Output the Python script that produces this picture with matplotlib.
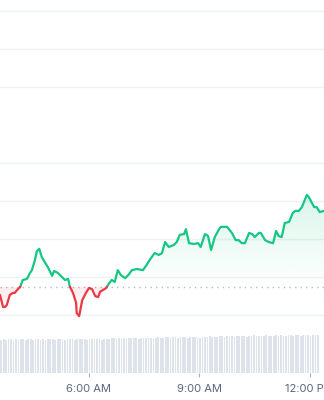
import numpy as np
import matplotlib
matplotlib.use("Agg")
import matplotlib.pyplot as plt
from matplotlib.colors import to_rgb

# ---- data (minutes since midnight, price) ----
times = [215, 220, 223, 226, 231, 236, 239, 243, 248, 252, 259, 264, 267, 272, 275, 279,
         283, 288, 293, 300, 303, 309, 316, 321, 326, 329, 334, 339, 340, 344, 349, 355,
         360, 365, 370, 375, 378, 383, 388, 393, 397, 402, 407, 412, 419, 424, 430, 438,
         448, 454, 459, 467, 474, 479, 484, 490, 498, 503, 508, 515, 518, 523, 531, 538,
         542, 549, 554, 559, 565, 572, 575, 585, 593, 599, 604, 609, 614, 621, 626, 630,
         637, 640, 647, 653, 660, 665, 669, 674, 679, 686, 692, 696, 702, 707, 715, 718,
         727, 731, 736, 743]
prices = [25.53, 25.21, 25.21, 25.26, 25.53, 25.58, 25.58, 25.66, 25.74, 25.92, 25.95, 26.11,
          26.18, 26.45, 26.68, 26.74, 26.53, 26.39, 26.26, 26.03, 26.16, 26.11, 26.00, 25.92,
          25.95, 25.74, 25.58, 25.32, 25.05, 24.97, 25.39, 25.58, 25.71, 25.68, 25.50, 25.47,
          25.61, 25.66, 25.71, 25.84, 25.92, 25.87, 26.18, 26.05, 25.97, 26.05, 26.18, 26.21,
          26.18, 26.32, 26.45, 26.63, 26.58, 26.63, 26.92, 26.79, 26.84, 26.92, 27.11, 27.13,
          27.26, 26.89, 26.87, 26.89, 26.79, 27.13, 27.08, 26.71, 27.05, 27.26, 27.32, 27.32,
          27.16, 26.97, 26.97, 26.89, 26.89, 27.16, 27.13, 27.05, 27.16, 27.16, 26.97, 26.92,
          26.89, 27.21, 27.08, 27.05, 27.42, 27.45, 27.68, 27.74, 27.74, 27.84, 28.16, 28.11,
          27.84, 27.84, 27.71, 27.74]
prev_close = 25.74
grid_levels = [25, 26, 27, 28, 29, 31, 32, 33]
tick_times = [360, 540, 720]
tick_labels = ["6:00 AM", "9:00 AM", "12:00 PM"]
vol_start = 217
vol_step = 4
volumes = [33, 34, 33, 34, 34, 33, 34, 33, 34, 34, 33, 34, 34, 33, 34, 34, 33, 34, 33, 34, 34, 34,
           33, 34, 34, 34, 33, 34, 34, 34, 33, 34, 34, 34, 34, 33, 34, 34, 34, 34, 34, 33, 34, 34,
           34, 35, 35, 34, 35, 35, 35, 34, 35, 35, 35, 35, 34, 35, 35, 35, 36, 35, 35, 35, 36, 35,
           35, 36, 36, 35, 36, 36, 35, 36, 36, 36, 35, 36, 36, 36, 36, 35, 36, 36, 36, 37, 36, 36,
           36, 37, 37, 36, 37, 37, 37, 36, 37, 37, 37, 37, 36, 37, 37, 38, 37, 37, 37, 37, 38, 37,
           37, 37, 38, 37, 38, 37, 37, 38, 38, 37, 38, 38, 37, 38, 38, 38, 37, 38, 38, 38]

GREEN = "#16c784"
RED = "#ea3943"
XMIN, XMAX = 215, 743

fig = plt.figure(figsize=(3.24, 4.0), dpi=100)
fig.patch.set_facecolor("white")

# ---- price axes ----
ax = fig.add_axes([0, 70 / 400, 1, 330 / 400])
ax.set_xlim(XMIN, XMAX)
ax.set_ylim(24.605, 33.29)
ax.axis("off")
for g in grid_levels:
    ax.axhline(g, color="#eff1f4", lw=1.0, zorder=0)
ax.axhline(prev_close, color="#b5bdcc", lw=1.0, ls=(0, (1, 3)), zorder=1)

t = np.array(times, float)
p = np.array(prices, float)
tt, pp = [t[0]], [p[0]]
for i in range(1, len(t)):
    d0, d1 = p[i - 1] - prev_close, p[i] - prev_close
    if d0 * d1 < 0:
        f = d0 / (d0 - d1)
        tt.append(t[i - 1] + f * (t[i] - t[i - 1]))
        pp.append(prev_close)
    tt.append(t[i])
    pp.append(p[i])
tt = np.array(tt)
pp = np.array(pp)


def gradient_fill(where, color, y0, y1, a_top, a_bot):
    poly = ax.fill_between(tt, pp, prev_close, where=where, interpolate=True,
                           facecolor="none", edgecolor="none")
    rgb = to_rgb(color)
    n = 100
    img = np.zeros((n, 1, 4))
    img[:, 0, :3] = rgb
    img[:, 0, 3] = np.linspace(a_top, a_bot, n)
    for path in poly.get_paths():
        im = ax.imshow(img, extent=(XMIN, XMAX, y0, y1), aspect="auto",
                       origin="upper", zorder=2, interpolation="bilinear")
        im.set_clip_path(path, transform=ax.transData)
    ax.set_xlim(XMIN, XMAX)
    ax.set_ylim(24.605, 33.29)


gradient_fill(pp >= prev_close, GREEN, prev_close, max(prices), 0.16, 0.0)
gradient_fill(pp <= prev_close, RED, min(prices), prev_close, 0.10, 0.0)

above = np.where(pp >= prev_close, pp, np.nan)
below = np.where(pp <= prev_close, pp, np.nan)
ax.plot(tt, above, color=GREEN, lw=1.6, solid_joinstyle="round", solid_capstyle="round", zorder=4)
ax.plot(tt, below, color=RED, lw=1.6, solid_joinstyle="round", solid_capstyle="round", zorder=4)

# ---- volume axes ----
vax = fig.add_axes([0, 27 / 400, 1, 40 / 400])
vax.set_xlim(XMIN, XMAX)
vax.set_ylim(0, 40)
vt = [vol_start + vol_step * i for i in range(len(volumes))]
vax.bar(vt, volumes, width=vol_step * 0.7, color="#dde2eb", linewidth=0)
for s in vax.spines.values():
    s.set_visible(False)
vax.set_yticks([])
vax.set_xticks(tick_times)
vax.set_xticklabels(tick_labels, fontfamily="Inter", fontsize=8, color="#58667e")
vax.tick_params(axis="x", length=3, width=0.8, color="#a6b0c3", pad=5, direction="out")
vax.patch.set_alpha(0)

fig.savefig("out.png", dpi=100, facecolor="white")
